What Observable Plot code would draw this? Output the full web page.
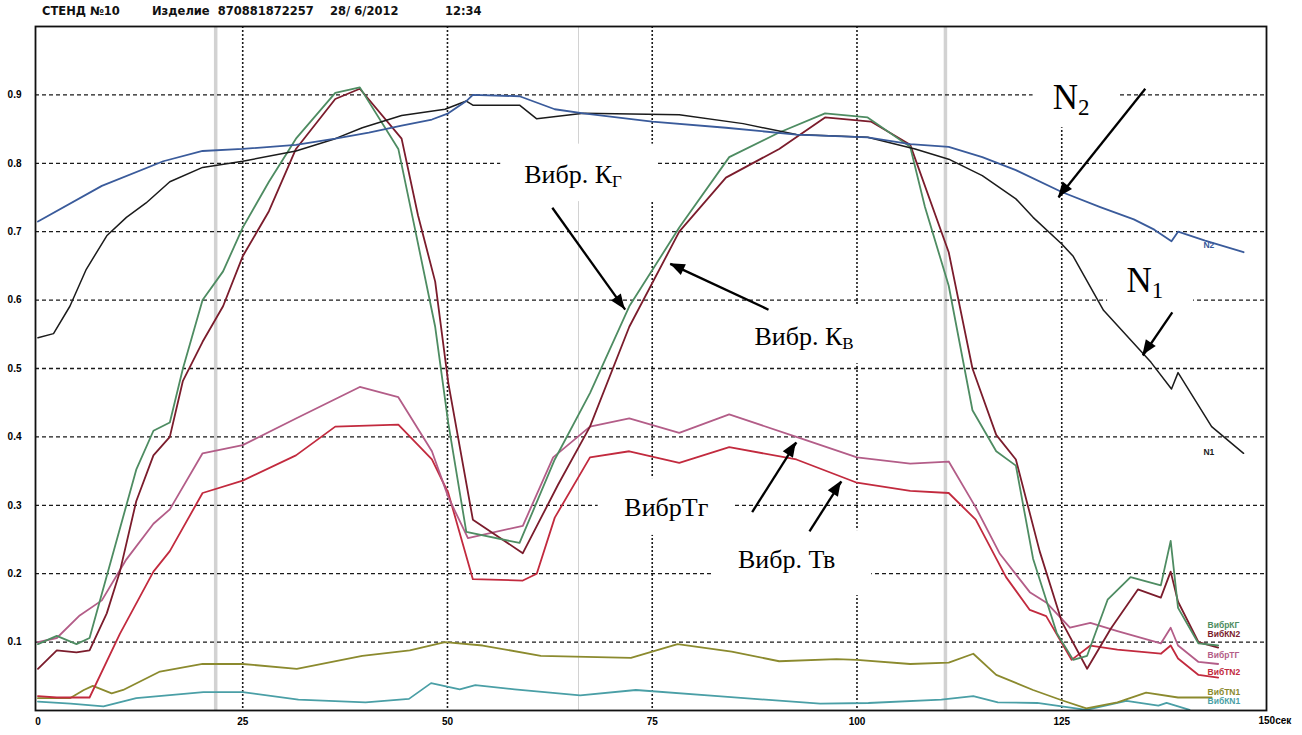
<!DOCTYPE html>
<html><head><meta charset="utf-8">
<script src="https://cdn.jsdelivr.net/npm/d3@7"></script>
<script src="https://cdn.jsdelivr.net/npm/@observablehq/plot@0.6"></script>
<style>
html,body{margin:0;padding:0;background:#fff;overflow:hidden;width:1302px;height:735px;}
#hdr{position:relative;height:24px;font-family:"DejaVu Sans","Liberation Sans",Arial,sans-serif;font-weight:bold;font-size:11.5px;color:#111;}
#hdr span{position:absolute;top:4px;white-space:pre;}
</style></head><body>
<div id="hdr"></div>
<div id="chart"></div>
<script>
// ---- header texts ----
const titleParts = ["СТЕНД №10", "Изделие  870881872257", "28/ 6/2012", "12:34"];
const titleLeft = [42, 152, 330, 445];

// ---- axis ticks ----
const xTicks = [0, 25, 50, 75, 100, 125];
const xLastTick = 150;
const xLastLabel = "150сек";
const yTicks = [0.1, 0.2, 0.3, 0.4, 0.5, 0.6, 0.7, 0.8, 0.9];

// ---- series values [time, value] ----
const N2 = [[0,0.715],[7.8,0.767],[15.3,0.803],[20.1,0.818],[25,0.821],[31.5,0.827],[36.3,0.836],[40.4,0.845],[44.4,0.855],[48.1,0.864],[50.1,0.873],[52.3,0.891],[53.1,0.9],[58.8,0.898],[63.1,0.879],[66.6,0.873],[75,0.861],[84,0.852],[92.6,0.842],[101.3,0.838],[106.5,0.828],[111.2,0.824],[115.3,0.809],[119.4,0.79],[125,0.758],[129.7,0.736],[133.8,0.718],[136.3,0.703],[138.4,0.686],[139.2,0.7],[142.5,0.687],[147.2,0.67]];
const N1 = [[0,0.545],[1.9,0.551],[3.9,0.591],[5.9,0.645],[8.4,0.694],[10.8,0.721],[13.2,0.742],[16.1,0.773],[20.1,0.794],[25,0.803],[31.5,0.818],[36.3,0.836],[39.6,0.852],[44.4,0.87],[49.7,0.879],[52.3,0.891],[53.1,0.885],[58.8,0.885],[60.9,0.865],[66.6,0.873],[78.3,0.871],[86.1,0.858],[92.6,0.842],[101.3,0.838],[107.1,0.821],[111.2,0.806],[115.3,0.782],[119.4,0.748],[121.5,0.721],[125,0.682],[126.4,0.664],[130.1,0.585],[135.9,0.509],[138.4,0.47],[139.2,0.494],[143.3,0.415],[147.2,0.376]];
const vibKG = [[0,0.097],[2.3,0.109],[4.7,0.097],[6.3,0.106],[12,0.352],[14.1,0.409],[16.1,0.421],[17.7,0.5],[20.1,0.6],[22.6,0.642],[25,0.706],[28.2,0.773],[31.5,0.836],[36.3,0.903],[39.3,0.911],[44,0.821],[46,0.706],[48.5,0.561],[50.1,0.42],[52.3,0.261],[58.8,0.245],[63.1,0.367],[67.4,0.464],[72.2,0.591],[78.3,0.706],[84.4,0.809],[90.5,0.845],[96.1,0.873],[101.3,0.867],[106.5,0.824],[108.3,0.736],[111.2,0.621],[114.1,0.439],[117,0.379],[119.4,0.358],[121.5,0.222],[124.4,0.113],[126.4,0.074],[128.1,0.08],[130.6,0.162],[133.4,0.195],[137.1,0.183],[138.3,0.248],[139.2,0.15],[141.7,0.098],[144.1,0.095]];
const vibKN2 = [[0,0.061],[2.3,0.088],[4.7,0.085],[6.3,0.088],[8.4,0.142],[10,0.203],[12,0.306],[14.1,0.373],[16.1,0.4],[17.7,0.482],[20.1,0.539],[22.6,0.591],[25,0.664],[28.2,0.73],[31.5,0.821],[36.3,0.894],[39.3,0.909],[44.4,0.836],[46.4,0.724],[48.5,0.627],[50.1,0.479],[53.1,0.279],[59.2,0.23],[63.5,0.33],[67.4,0.415],[72.2,0.561],[78.3,0.7],[84,0.779],[90.5,0.821],[96.1,0.867],[101.7,0.861],[106.5,0.827],[111.2,0.67],[114.1,0.5],[117,0.403],[119.4,0.367],[122.3,0.233],[125,0.13],[128.1,0.061],[131,0.12],[134.3,0.177],[137.1,0.165],[138.3,0.203],[139.2,0.159],[141.7,0.1],[144.1,0.092]];
const vibTG = [[0,0.1],[2.3,0.106],[5.1,0.139],[7.8,0.161],[10.8,0.221],[14.1,0.273],[16.1,0.294],[20.1,0.376],[25,0.388],[31.5,0.427],[39.3,0.473],[44,0.458],[48.1,0.379],[50.1,0.312],[52.5,0.252],[59.2,0.27],[62.9,0.37],[67.4,0.415],[72.2,0.427],[78.3,0.406],[84.4,0.433],[92.6,0.4],[100,0.37],[106.5,0.361],[111.2,0.364],[114.5,0.297],[117.4,0.23],[121.1,0.173],[123.1,0.158],[126,0.121],[128.5,0.128],[131.8,0.116],[137.1,0.098],[138.3,0.121],[139.2,0.095],[141.7,0.071],[144.1,0.068]];
const vibTN2 = [[0,0.021],[2.3,0.019],[6.3,0.019],[10,0.112],[14.1,0.203],[16.1,0.233],[20.1,0.318],[25,0.336],[31.5,0.373],[36.3,0.415],[44,0.418],[48.1,0.367],[50.1,0.318],[53.1,0.192],[59.2,0.19],[60.9,0.2],[63.1,0.282],[67.4,0.37],[72.2,0.379],[78.3,0.362],[84.4,0.385],[92.6,0.367],[100,0.333],[106.5,0.321],[111.2,0.318],[114.5,0.279],[118.2,0.195],[121.1,0.147],[123.1,0.138],[126.2,0.074],[128.5,0.095],[131.8,0.089],[137.1,0.083],[138.3,0.095],[139.2,0.076],[141.7,0.052],[144.1,0.048]];
const vibTN1 = [[0,0.018],[3.9,0.018],[5.6,0.03],[6.7,0.036],[9,0.025],[10.4,0.03],[14.9,0.057],[20.1,0.068],[25,0.068],[31.6,0.061],[39.6,0.08],[45.4,0.088],[49.7,0.1],[54.3,0.095],[61.4,0.08],[72.4,0.077],[78.1,0.097],[84.7,0.086],[90.5,0.072],[97.5,0.075],[100,0.074],[106.5,0.068],[111.2,0.07],[114.2,0.083],[117,0.052],[121.5,0.03],[125,0.015],[128,0.003],[131.8,0.012],[135.3,0.026],[139.2,0.019],[143.3,0.019]];
const vibKN1 = [[0,0.013],[4,0.01],[8,0.006],[12,0.018],[20.2,0.027],[25,0.027],[31.8,0.016],[40,0.012],[45.3,0.017],[48,0.04],[51.5,0.031],[53.4,0.037],[58.2,0.031],[66.2,0.022],[73,0.03],[83,0.021],[95.5,0.01],[101.4,0.011],[110.3,0.016],[114.2,0.021],[117.2,0.012],[122,0.011],[128,0.001],[132.9,0.014],[136.8,0.007],[137.8,0.011],[140.6,0.001]];

const seriesNames = ["ВибКN1", "ВибТN1", "ВибТN2", "ВибрТГ", "ВибКN2", "ВибрКГ", "N1", "N2"];
const seriesValues = [vibKN1, vibTN1, vibTN2, vibTG, vibKN2, vibKG, N1, N2];
const seriesColors = ["#4a9fa6", "#8b8a2e", "#c22a3e", "#b35d88", "#7b1c2c", "#4e8c62", "#1b1b1b", "#3a5b9b"];

// ---- end-of-line labels ----
const endLabelText = ["N2", "N1", "ВибрКГ", "ВибКN2", "ВибрТГ", "ВибТN2", "ВибТN1", "ВибКN1"];
const endLabelSeries = ["N2", "N1", "ВибрКГ", "ВибКN2", "ВибрТГ", "ВибТN2", "ВибТN1", "ВибКN1"];
const endLabelX = [142.3, 142.3, 142.8, 142.8, 142.8, 142.8, 142.8, 142.8];
const endLabelY = [0.68, 0.377, 0.124, 0.112, 0.081, 0.056, 0.026, 0.014];

// ---- annotations ----
const annMain = ["N", "N", "Вибр. К", "Вибр. К", "ВибрТг", "Вибр. Тв"];
const annSub  = ["2", "1", "Г", "В", "", ""];
const annX    = [127.0, 136.0, 70.1, 98.2, 81.85, 97.35];
const annY    = [0.880, 0.612, 0.7715, 0.535, 0.284, 0.208];
const annBig  = [true, true, false, false, false, false];
const boxX1 = [121.5, 130.6, 56.5, 85.1, 68.4, 82.4];
const boxX2 = [131.9, 141.1, 75.4, 101.6, 85.1, 101.8];
const boxY1 = [0.852, 0.592, 0.744, 0.507, 0.256, 0.168];
const boxY2 = [0.999, 0.687, 0.828, 0.592, 0.339, 0.263];
const arrX1 = [135.2, 138.5, 62.8, 89.2, 87.2, 94.2];
const arrY1 = [0.909, 0.582, 0.735, 0.586, 0.290, 0.262];
const arrX2 = [124.6, 134.9, 71.7, 77.2, 92.6, 98.1];
const arrY2 = [0.750, 0.519, 0.586, 0.653, 0.392, 0.335];

// scanner streaks visible on the original sheet
const scanX = [21.7, 66.0, 110.8];
const scanW = [3.5, 1, 3.5];

// ---- build tables ----
const rows = seriesNames.flatMap((s, i) => seriesValues[i].map(([x, y]) => ({series: s, x, y})));
const colorOf = Object.fromEntries(seriesNames.map((s, i) => [s, seriesColors[i]]));
const endLabels = endLabelText.map((t, i) => ({text: t, x: endLabelX[i], y: endLabelY[i], color: colorOf[endLabelSeries[i]]}));
const anns = annMain.map((m, i) => ({main: m, sub: annSub[i], x: annX[i], y: annY[i], big: annBig[i]}));
const annsBig = anns.filter(d => d.big), annsSmall = anns.filter(d => !d.big);
const boxes = boxX1.map((x1, i) => ({x1, x2: boxX2[i], y1: boxY1[i], y2: boxY2[i]}));
const arrows = arrX1.map((x1, i) => ({x1, y1: arrY1[i], x2: arrX2[i], y2: arrY2[i]}));
const scans = scanX.map((x, i) => ({x, w: scanW[i]}));

const hdr = document.getElementById("hdr");
titleParts.forEach((t, i) => {
  const s = document.createElement("span");
  s.textContent = t; s.style.left = titleLeft[i] + "px";
  hdr.appendChild(s);
});

const sans = '"Liberation Sans", Arial, sans-serif';
const serif = '"Liberation Serif", "Times New Roman", serif';

function arrowHeads(index, scales) {
  const g = d3.create("svg:g").attr("fill", "#000");
  for (const a of arrows) {
    const x1 = scales.x(a.x1), y1 = scales.y(a.y1), x2 = scales.x(a.x2), y2 = scales.y(a.y2);
    const ang = Math.atan2(y2 - y1, x2 - x1);
    const L = 15, W = 6;
    const bx = x2 - L * Math.cos(ang), by = y2 - L * Math.sin(ang);
    const px = -Math.sin(ang) * W, py = Math.cos(ang) * W;
    g.append("path").attr("d", `M${x2},${y2}L${bx + px},${by + py}L${bx - px},${by - py}Z`);
  }
  return g.node();
}

const marks = [
  Plot.ruleX(scans, {x: "x", stroke: "#d2d2d2", strokeWidth: "w"}),
  Plot.ruleY(yTicks, {stroke: "#1a1a1a", strokeWidth: 1.3, strokeDasharray: "4,3"}),
  Plot.ruleX(xTicks.filter(d => d > 0), {stroke: "#1a1a1a", strokeWidth: 1.6, strokeDasharray: "2,2"}),
  Plot.rect(boxes, {x1: "x1", x2: "x2", y1: "y1", y2: "y2", fill: "white"}),
  ...seriesNames.map(s => Plot.line(rows.filter(d => d.series === s), {x: "x", y: "y", stroke: colorOf[s], strokeWidth: s === "N1" ? 1.5 : 1.8, strokeLinejoin: "round"})),
  Plot.text(endLabels, {x: "x", y: "y", text: "text", fill: "color", textAnchor: "start", fontSize: 8.5, fontWeight: "bold", fontFamily: sans}),
  Plot.text(anns, {x: "x", y: "y", text: "main", textAnchor: "end", lineAnchor: "bottom", fontFamily: serif, fontSize: d => d.big ? 35 : 26, fill: "#000"}),
  Plot.text(annsBig, {x: "x", y: "y", text: "sub", textAnchor: "start", lineAnchor: "bottom", fontFamily: serif, fontSize: 23, dy: 6, fill: "#000"}),
  Plot.text(annsSmall, {x: "x", y: "y", text: "sub", textAnchor: "start", lineAnchor: "bottom", fontFamily: serif, fontSize: 17, dy: 4, fill: "#000"}),
  Plot.link(arrows, {x1: "x1", y1: "y1", x2: "x2", y2: "y2", stroke: "#000", strokeWidth: 2.3}),
  arrowHeads,
  Plot.frame({stroke: "#111", strokeWidth: 1.8}),
  Plot.axisY(yTicks, {tickSize: 0, tickPadding: 14, tickFormat: d => d.toFixed(1), fontSize: 10, fontWeight: "bold", fontFamily: sans, label: null}),
  Plot.axisX(xTicks, {tickSize: 0, tickPadding: 7, tickFormat: d => String(d), fontSize: 10, fontWeight: "bold", fontFamily: sans, label: null}),
  Plot.text([xLastTick], {x: d => d, frameAnchor: "bottom", dy: 13, text: () => xLastLabel, textAnchor: "start", dx: -8, fontSize: 10, fontWeight: "bold", fontFamily: sans})
];

const chart = Plot.plot({
  width: 1302, height: 711,
  marginTop: 2, marginBottom: 25, marginLeft: 35, marginRight: 36,
  x: {domain: [-0.3, 150]},
  y: {domain: [0, 1]},
  style: {background: "white", fontFamily: sans, overflow: "visible"},
  marks
});
document.getElementById("chart").appendChild(chart);
</script>
</body></html>
